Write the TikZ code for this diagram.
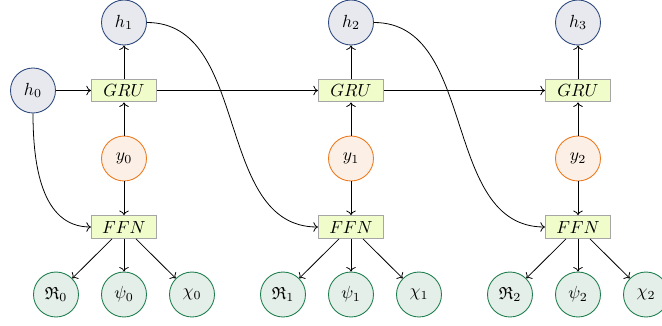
\documentclass[tikz,border=0pt]{standalone}
\usepackage{amssymb}
\usetikzlibrary{arrows.meta}
\definecolor{hdraw}{HTML}{2E4A7E}
\definecolor{hfill}{HTML}{E8E9EF}
\definecolor{ydraw}{HTML}{EE7A1E}
\definecolor{yfill}{HTML}{FCEFE6}
\definecolor{odraw}{HTML}{1F7F4E}
\definecolor{ofill}{HTML}{E5EFE9}
\definecolor{bfill}{HTML}{F1FCCB}
\tikzset{
  hnode/.style={circle,draw=hdraw,fill=hfill,line width=0.5pt,minimum size=0.9cm,inner sep=0pt},
  ynode/.style={circle,draw=ydraw,fill=yfill,line width=0.5pt,minimum size=0.9cm,inner sep=0pt},
  onode/.style={circle,draw=odraw,fill=ofill,line width=0.5pt,minimum size=0.9cm,inner sep=0pt},
  boxnode/.style={rectangle,draw=gray!70,fill=bfill,line width=0.7pt,minimum width=1.3cm,minimum height=0.45cm,inner sep=0pt},
  conn/.style={->,line width=0.45pt}
}
\begin{document}
\begin{tikzpicture}[x=0.02cm,y=-0.02cm]
\clip (0,0) rectangle (662,325);
\node[hnode] (h0) at (33,90.5) {$h_0$};
\foreach \i/\x in {0/124,1/351,2/578}{
  \pgfmathtruncatemacro{\j}{\i+1}
  \node[hnode] (h\j) at (\x,22.5) {$h_{\j}$};
  \node[boxnode] (gru\i) at (\x,90.5) {$GRU$};
  \node[ynode] (y\i) at (\x,158.5) {$y_{\i}$};
  \node[boxnode] (ffn\i) at (\x,227) {$FFN$};
  \node[onode] (r\i) at (\x-68,294.5) {$\mathfrak{R}_{\i}$};
  \node[onode] (p\i) at (\x,294.5) {$\psi_{\i}$};
  \node[onode] (c\i) at (\x+68,294.5) {$\chi_{\i}$};
  \draw[conn] (gru\i) -- (h\j);
  \draw[conn] (y\i) -- (gru\i);
  \draw[conn] (y\i) -- (ffn\i);
  \draw[conn] (ffn\i) -- (r\i);
  \draw[conn] (ffn\i) -- (p\i);
  \draw[conn] (ffn\i) -- (c\i);
}
\draw[conn] (h0) -- (gru0);
\draw[conn] (gru0) -- (gru1);
\draw[conn] (gru1) -- (gru2);
\draw[conn] (h0.south) to[out=-90,in=180] (ffn0.west);
\draw[conn] (h1.east) to[out=0,in=180] (ffn1.west);
\draw[conn] (h2.east) to[out=0,in=180] (ffn2.west);
\end{tikzpicture}
\end{document}
